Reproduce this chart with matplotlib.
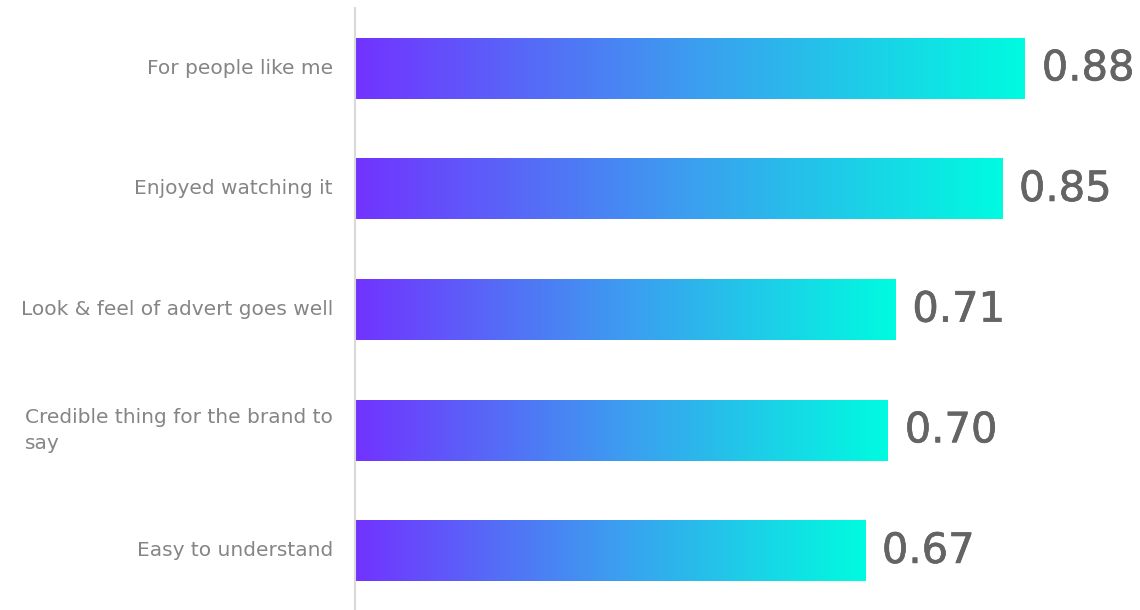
import matplotlib.pyplot as plt
import matplotlib.patheffects as pe
import numpy as np
from matplotlib.colors import LinearSegmentedColormap

# 데이터
categories = ['For people like me', 'Enjoyed watching it', 'Look & feel of advert goes well',
              'Credible thing for the brand to\nsay', 'Easy to understand']
values = [0.88, 0.85, 0.71, 0.70, 0.67]

plt.rcParams['font.family'] = ['DejaVu Sans']

cmap = LinearSegmentedColormap.from_list('grad', ['#7233ff', '#3d9cf0', '#00fbe0'])
grad = np.linspace(0, 1, 256).reshape(1, -1)

fig = plt.figure(figsize=(11.4, 6.1), dpi=100)
ax = fig.add_axes([355/1140, 0, 785/1140, 602/610])

bar_h = 0.505
for i, v in enumerate(values):
    # 막대마다 그라데이션 이미지를 채움
    ax.imshow(grad, cmap=cmap, aspect='auto', interpolation='bilinear',
              extent=[0, v, i + bar_h/2, i - bar_h/2], zorder=2)
    ax.text(v + 0.022, i, f'{v:.2f}', va='center', ha='left',
            fontsize=30, color='#646464',
            path_effects=[pe.withStroke(linewidth=0.5, foreground='#646464')])
    ax.text(-0.029, i, categories[i], va='center', ha='right', multialignment='left',
            fontsize=14.5, color='#858585', linespacing=1.45)

ax.set_xlim(0, 0.88 * 785 / 670)
ax.set_ylim(len(values) - 0.51, -0.5)
ax.set_xticks([])
ax.set_yticks([])
for s in ['top', 'right', 'bottom']:
    ax.spines[s].set_visible(False)
ax.spines['left'].set_color('#d9d9d9')
ax.spines['left'].set_linewidth(1.5)

fig.savefig('out.png', dpi=100)
